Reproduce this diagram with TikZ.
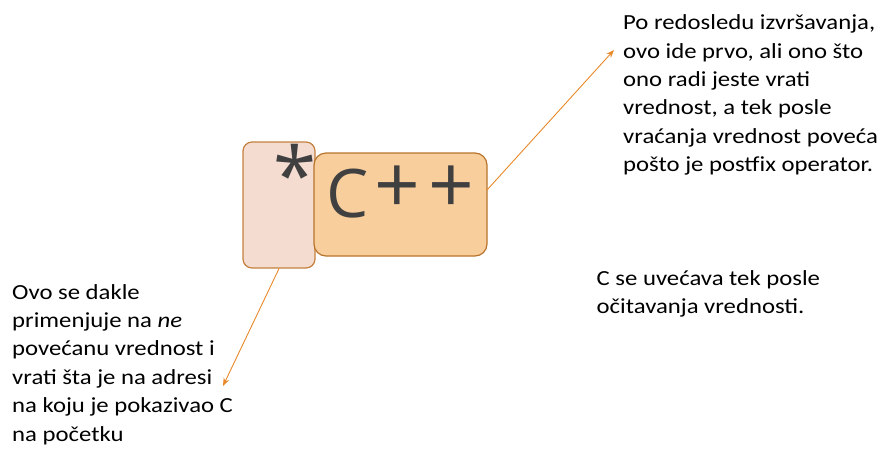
\documentclass[tikz,border=0pt]{standalone}
\usepackage{fontspec}
\setmainfont{Carlito}[FakeStretch=1.15]
\newfontfamily\codefont{Open Sans}
\usetikzlibrary{arrows.meta}
\definecolor{pinkfill}{HTML}{F5DCD0}
\definecolor{pinkdraw}{HTML}{C4803E}
\definecolor{orangefill}{HTML}{F7CE9C}
\definecolor{orangedraw}{HTML}{B8742C}
\definecolor{arrowcol}{HTML}{E8892A}
\definecolor{codecol}{HTML}{404040}
\tikzset{
  ptrbox/.style={draw=pinkdraw, fill=pinkfill, line width=1.2pt, rounded corners=9pt, minimum width=72pt, minimum height=126pt, inner sep=0pt},
  codebox/.style={draw=orangedraw, fill=orangefill, line width=1.2pt, rounded corners=12pt, minimum width=173pt, minimum height=103pt, inner sep=0pt},
  codetext/.style={text=codecol, inner sep=0pt, anchor=center},
  note/.style={font=\fontsize{21.5}{28.4}\selectfont, align=left, anchor=north west, inner sep=0pt},
  conn/.style={draw=arrowcol, line width=0.9pt, -{Stealth[length=8pt,width=6pt]}}
}
\begin{document}
\begin{tikzpicture}[x=1pt,y=-1pt]
\useasboundingbox (0,0) rectangle (881,453);
\node[ptrbox] (ptr) at (279,205) {};
\node[codebox] (cbox) at (400.5,204.5) {};
\node[codetext, font=\codefont\fontsize{78}{78}\selectfont] (star) at (295,173.5) {*};
\node[codetext, font=\codefont\fontsize{67}{67}\selectfont] (cc) at (348,194) {C};
\node[codetext, font=\codefont\fontsize{80}{80}\selectfont] (plusa) at (397.5,190) {+};
\node[codetext, font=\codefont\fontsize{80}{80}\selectfont] (plusb) at (451,190) {+};
\node[note] (top) at (623,14.5) {Po redosledu izvršavanja,\\ovo ide prvo, ali ono što\\ono radi jeste vrati\\vrednost, a tek posle\\vraćanja vrednost poveća\\pošto je postfix operator.};
\node[note] (mid) at (596.5,270) {C se uvećava tek posle\\očitavanja vrednosti.};
\node[note] (left) at (12,284) {Ovo se dakle\\primenjuje na \textit{ne}\\povećanu vrednost i\\vrati šta je na adresi\\na koju je pokazivao C\\na početku};
\coordinate (a1s) at (487,190);
\coordinate (a1e) at (614,50);
\coordinate (a2e) at (223,386);
\draw[conn] (a1s) -- (a1e);
\draw[conn] (ptr.south) -- (a2e);
\end{tikzpicture}
\end{document}
